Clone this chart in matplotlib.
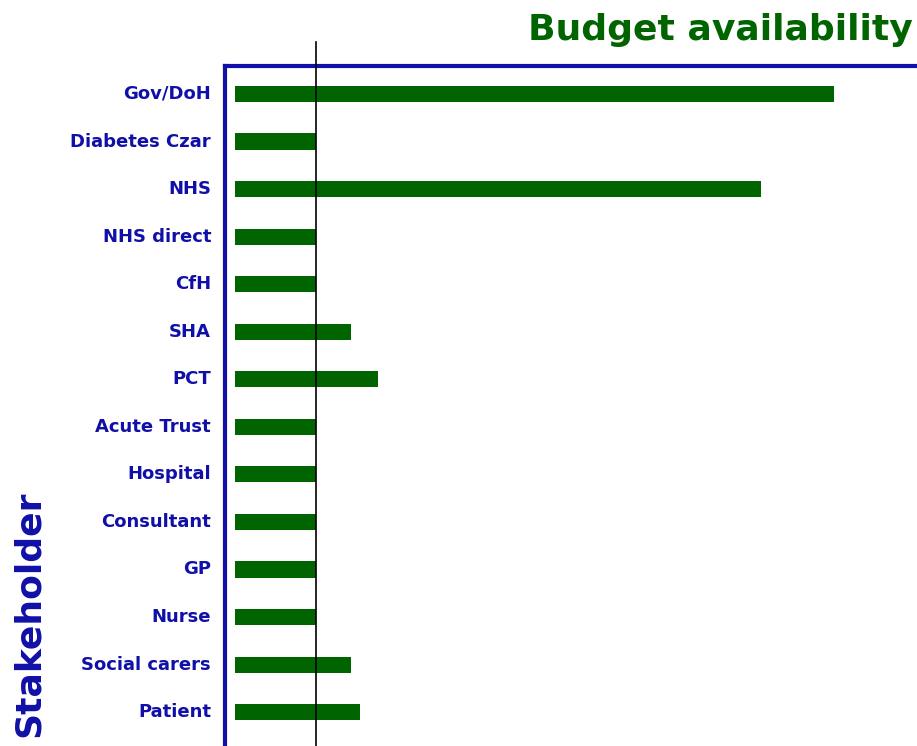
import matplotlib
matplotlib.use("Agg")
import matplotlib.pyplot as plt

stakeholders = ["Gov/DoH", "Diabetes Czar", "NHS", "NHS direct", "CfH", "SHA", "PCT",
                "Acute Trust", "Hospital", "Consultant", "GP", "Nurse", "Social carers", "Patient"]
budget = [7.4, 1.0, 6.5, 1.0, 1.0, 1.43, 1.77, 1.0, 1.0, 1.0, 1.0, 1.0, 1.43, 1.54]
reference_level = 1.0

BLUE = "#1010a8"
GREEN = "#006400"

fig = plt.figure(figsize=(9.17, 7.46), dpi=100)
W, H = 917, 746
left_px, right_px, top_px, bottom_px = 225, 940, 66, 770
ax = fig.add_axes([left_px / W, 1 - bottom_px / H, (right_px - left_px) / W, (bottom_px - top_px) / H])

y = list(range(len(stakeholders)))
ax.barh(y, budget, height=0.34, color=GREEN, left=0)

px_per_unit = 81.0
px_per_cat = 47.55
ax.set_xlim(-(235 - left_px) / px_per_unit, (right_px - 235) / px_per_unit)
ax.set_ylim((bottom_px - 94) / px_per_cat, -(94 - top_px) / px_per_cat)

ax.plot([reference_level, reference_level], [(bottom_px - 94) / px_per_cat, -(94 - 42) / px_per_cat],
        color="black", lw=1.2, clip_on=False, zorder=5)

ax.set_yticks(y)
ax.set_yticklabels(stakeholders, fontsize=13, fontweight="bold", color=BLUE, va="center")
ax.tick_params(axis="y", length=0, pad=10)
ax.set_xticks([])

for s in ["right", "bottom"]:
    ax.spines[s].set_visible(False)
for s in ["left", "top"]:
    ax.spines[s].set_color(BLUE)
    ax.spines[s].set_linewidth(3)

fig.text(913 / W, 1 - 30 / H, "Budget availability", ha="right", va="center",
         fontsize=26, fontweight="bold", color=GREEN)
fig.text(29 / W, 1 - 614 / H, "Stakeholder", rotation=90, ha="center", va="center",
         fontsize=26, fontweight="bold", color=BLUE)

fig.savefig("out.png", dpi=100)
